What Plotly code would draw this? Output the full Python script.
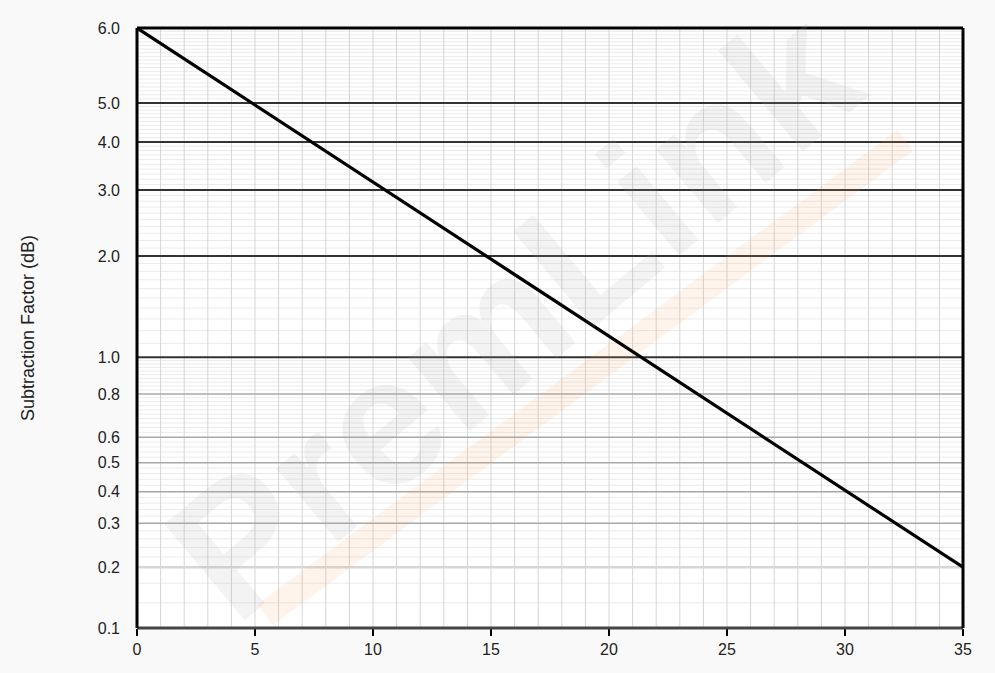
import numpy as np
import plotly.graph_objects as go

# ---- data ----
line_x = [0, 35]
line_y = [6.0, 0.2]

y_tick_values = [0.1, 0.2, 0.3, 0.4, 0.5, 0.6, 0.8, 1.0, 2.0, 3.0, 4.0, 5.0, 6.0]
y_tick_text = ["0.1", "0.2", "0.3", "0.4", "0.5", "0.6", "0.8", "1.0", "2.0", "3.0", "4.0", "5.0", "6.0"]
x_tick_values = [0, 5, 10, 15, 20, 25, 30, 35]

# ---- custom (non-uniform) y scale of the original chart: value -> axis fraction ----
_scale_vals = np.array(y_tick_values)
_scale_frac = np.array([0.0, 0.1012, 0.1745, 0.2272, 0.2755, 0.3178, 0.39, 0.4512,
                        0.62, 0.73, 0.81, 0.875, 1.0])


def yscale(v):
    return np.interp(np.log10(np.asarray(v, dtype=float)), np.log10(_scale_vals), _scale_frac)


# minor horizontal grid values
minor_vals = ([0.1333, 0.1667]
              + list(np.round(np.arange(0.22, 1.0, 0.02), 3))
              + list(np.round(np.arange(1.1, 5.0, 0.1), 2))
              + list(np.round(np.arange(5.05, 6.0, 0.05), 3)))
minor_vals = [v for v in minor_vals if v not in y_tick_values]

fig = go.Figure()

shapes = []
for v in minor_vals:
    shapes.append(dict(type="line", xref="paper", x0=0, x1=1, yref="y", y0=float(yscale(v)), y1=float(yscale(v)),
                       line=dict(color="#ebebeb", width=1), layer="below"))
for v in range(1, 35):
    shapes.append(dict(type="line", xref="x", x0=v, x1=v, yref="paper", y0=0, y1=1,
                       line=dict(color="#d4d4d4", width=1), layer="below"))
for v in y_tick_values:
    if v in (0.1, 6.0):
        continue
    if v >= 1.0:
        col, w = "#333333", 2
    elif v == 0.2:
        col, w = "#d6d6d6", 2.5
    else:
        col, w = "#a8a8a8", 1.5
    shapes.append(dict(type="line", xref="paper", x0=0, x1=1, yref="y", y0=float(yscale(v)), y1=float(yscale(v)),
                       line=dict(color=col, width=w), layer="below"))

# watermark underline (faint orange)
shapes.append(dict(type="line", xref="paper", yref="paper", x0=0.155, y0=0.022, x1=0.93, y1=0.813,
                   line=dict(color="rgba(255,170,100,0.13)", width=26), layer="below"))

# frame
shapes.append(dict(type="line", xref="paper", yref="paper", x0=0, x1=1, y0=0, y1=0,
                   line=dict(color="#444444", width=3), layer="above"))
shapes.append(dict(type="line", xref="paper", yref="paper", x0=0, x1=0, y0=0, y1=1,
                   line=dict(color="#000000", width=3), layer="above"))
shapes.append(dict(type="line", xref="paper", yref="paper", x0=1, x1=1, y0=0, y1=1,
                   line=dict(color="#000000", width=3), layer="above"))
shapes.append(dict(type="line", xref="paper", yref="paper", x0=0, x1=1, y0=1, y1=1,
                   line=dict(color="#000000", width=3), layer="above"))

fig.add_trace(go.Scatter(x=line_x, y=yscale(line_y), mode="lines",
                         line=dict(color="#000000", width=3.2), hoverinfo="skip", showlegend=False))

fig.update_layout(
    width=995, height=673,
    margin=dict(l=137, r=32, t=28, b=45),
    paper_bgcolor="#f9f9f9",
    plot_bgcolor="#ffffff",
    font=dict(family="Liberation Sans, Arial, sans-serif", size=16, color="#222222"),
    shapes=shapes,
    showlegend=False,
    annotations=[dict(text="<b>PremLink</b>", xref="paper", yref="paper", x=0.455, y=0.525,
                      showarrow=False, textangle=-40,
                      font=dict(family="Liberation Sans, Arial, sans-serif", size=182,
                                color="rgba(170,170,170,0.14)"))],
)
fig.update_xaxes(range=[0, 35], tickvals=x_tick_values, ticks="outside", ticklen=7, tickwidth=2,
                 tickcolor="#000000", showgrid=False, zeroline=False, showline=False,
                 tickfont=dict(size=16))
fig.update_yaxes(range=[0, 1], tickvals=[float(t) for t in yscale(y_tick_values)], ticktext=y_tick_text,
                 ticks="", ticklabelstandoff=16, showgrid=False, zeroline=False, showline=False,
                 tickfont=dict(size=16),
                 title=dict(text="Subtraction Factor (dB)", font=dict(size=18), standoff=58))

fig.write_html("out.html", config={"displayModeBar": False},
               post_script="document.body.style.margin='0';document.body.style.background='#f9f9f9';")
